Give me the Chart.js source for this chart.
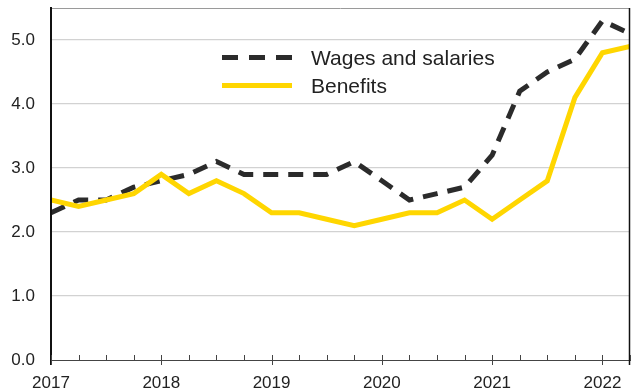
<!DOCTYPE html>
<html>
<head>
<meta charset="utf-8">
<script src="https://cdn.jsdelivr.net/npm/chart.js@4"></script>
<style>
  html, body { margin: 0; padding: 0; background: #ffffff; }
  #wrap { width: 635px; height: 389px; position: relative; }
</style>
</head>
<body>
<div id="wrap"><canvas id="c" width="635" height="389"></canvas></div>
<script>
// ---- Data (12-month percent change, quarterly) ----
const quarters = [2017.00, 2017.25, 2017.50, 2017.75,
                  2018.00, 2018.25, 2018.50, 2018.75,
                  2019.00, 2019.25, 2019.50, 2019.75,
                  2020.00, 2020.25, 2020.50, 2020.75,
                  2021.00, 2021.25, 2021.50, 2021.75,
                  2022.00, 2022.25];
const wagesAndSalaries = [2.3, 2.5, 2.5, 2.7, 2.8, 2.9, 3.1, 2.9, 2.9, 2.9, 2.9,
                          3.1, 2.8, 2.5, 2.6, 2.7, 3.2, 4.2, 4.5, 4.7, 5.3, 5.1];
const benefits = [2.5, 2.4, 2.5, 2.6, 2.9, 2.6, 2.8, 2.6, 2.3, 2.3, 2.2,
                  2.1, 2.2, 2.3, 2.3, 2.5, 2.2, 2.5, 2.8, 4.1, 4.8, 4.9];
const yearTicks = [2017, 2018, 2019, 2020, 2021, 2022];
const valueTicks = [0, 1, 2, 3, 4, 5];
const seriesLabels = ["Wages and salaries", "Benefits"];

const WAGE_COLOR = '#2b2b2b';
const BEN_COLOR = '#ffd600';
const TEXT_COLOR = '#222222';
const PLOT_TOP = 8;

const toPoints = (xs, ys) => xs.map((x, i) => ({ x: x, y: ys[i] }));

// keep the plot area top edge where the reference has it
const areaPlugin = {
  id: 'area',
  afterLayout(chart) {
    const a = chart.chartArea;
    const ys = chart.scales.y;
    if (a.top !== PLOT_TOP) {
      a.top = PLOT_TOP;
      a.height = a.bottom - a.top;
      ys.top = PLOT_TOP;
      ys.height = ys.bottom - ys.top;
      ys.configure();
    }
  }
};

const framePlugin = {
  id: 'frame',
  afterDraw(chart) {
    const ctx = chart.ctx;
    const a = chart.chartArea;
    const xs = chart.scales.x;
    ctx.save();
    ctx.strokeStyle = '#9a9a9a';
    ctx.lineWidth = 1;
    ctx.beginPath();
    ctx.moveTo(a.left, a.top + 0.5);
    ctx.lineTo(a.right, a.top + 0.5);
    ctx.stroke();
    ctx.strokeStyle = '#111';
    ctx.lineWidth = 1.5;
    ctx.beginPath();
    ctx.moveTo(a.right - 0.5, a.top);
    ctx.lineTo(a.right - 0.5, a.bottom + 5);
    ctx.stroke();
    ctx.lineWidth = 2;
    ctx.beginPath();
    ctx.moveTo(a.left, a.top);
    ctx.lineTo(a.left, a.bottom + 5);
    ctx.stroke();
    ctx.strokeStyle = '#444';
    ctx.lineWidth = 1;
    yearTicks.forEach(yr => {
      [0, 0.25, 0.5, 0.75].forEach(q => {
        const v = yr + q;
        if (v > xs.max + 1e-9) return;
        const px = Math.round(xs.getPixelForValue(v)) + 0.5;
        ctx.beginPath();
        ctx.moveTo(px, a.bottom - 5);
        ctx.lineTo(px, q === 0 ? a.bottom + 5 : a.bottom);
        ctx.stroke();
      });
    });
    const legendX = 222, lineLen = 70, textX = 311;
    const rows = [
      { y: 57.5, base: 65, color: WAGE_COLOR, dash: [16, 11], text: seriesLabels[0] },
      { y: 85.5, base: 92.5, color: BEN_COLOR, dash: [], text: seriesLabels[1] }
    ];
    rows.forEach(r => {
      ctx.strokeStyle = r.color;
      ctx.lineWidth = 5;
      ctx.setLineDash(r.dash);
      ctx.lineCap = 'butt';
      ctx.beginPath();
      ctx.moveTo(legendX, r.y);
      ctx.lineTo(legendX + lineLen, r.y);
      ctx.stroke();
      ctx.setLineDash([]);
      ctx.fillStyle = TEXT_COLOR;
      ctx.font = '21px "Liberation Sans", Arial, sans-serif';
      ctx.textBaseline = 'alphabetic';
      ctx.textAlign = 'left';
      ctx.fillText(r.text, textX, r.base);
    });
    ctx.restore();
  }
};

new Chart(document.getElementById('c'), {
  type: 'line',
  data: {
    datasets: [
      {
        label: seriesLabels[0],
        data: toPoints(quarters, wagesAndSalaries),
        borderColor: WAGE_COLOR,
        borderWidth: 5,
        borderDash: [15, 10],
        borderCapStyle: 'butt',
        borderJoinStyle: 'miter',
        pointRadius: 0,
        tension: 0,
        fill: false,
        order: 2
      },
      {
        label: seriesLabels[1],
        data: toPoints(quarters, benefits),
        borderColor: BEN_COLOR,
        borderWidth: 5,
        borderJoinStyle: 'miter',
        pointRadius: 0,
        tension: 0,
        fill: false,
        order: 1
      }
    ]
  },
  options: {
    responsive: false,
    animation: false,
    events: [],
    layout: { padding: { top: PLOT_TOP, right: 5, left: 0, bottom: 0 } },
    plugins: {
      legend: { display: false },
      tooltip: { enabled: false },
      title: { display: false }
    },
    scales: {
      x: {
        type: 'linear',
        min: quarters[0],
        max: quarters[quarters.length - 1],
        afterBuildTicks: s => { s.ticks = yearTicks.map(v => ({ value: v })); },
        afterFit: s => { s.height = 29; },
        grid: { drawOnChartArea: false, drawTicks: false },
        border: { display: true, color: '#444', width: 1 },
        ticks: {
          padding: 13,
          maxRotation: 0,
          autoSkip: false,
          color: TEXT_COLOR,
          font: { family: '"Liberation Sans", Arial, sans-serif', size: 17 },
          callback: v => String(v)
        }
      },
      y: {
        min: 0,
        max: 5.5,
        afterBuildTicks: s => { s.ticks = valueTicks.map(v => ({ value: v })); },
        afterFit: s => { s.width = 51; },
        grid: {
          color: ctx => ctx.tick && ctx.tick.value === 0 ? 'rgba(0,0,0,0)' : '#d2d2d2',
          lineWidth: 1.2,
          drawTicks: false
        },
        border: { display: true, color: '#111', width: 2 },
        ticks: {
          padding: 16,
          color: TEXT_COLOR,
          font: { family: '"Liberation Sans", Arial, sans-serif', size: 17 },
          callback: v => Number(v).toFixed(1)
        }
      }
    }
  },
  plugins: [areaPlugin, framePlugin]
});
</script>
</body>
</html>
